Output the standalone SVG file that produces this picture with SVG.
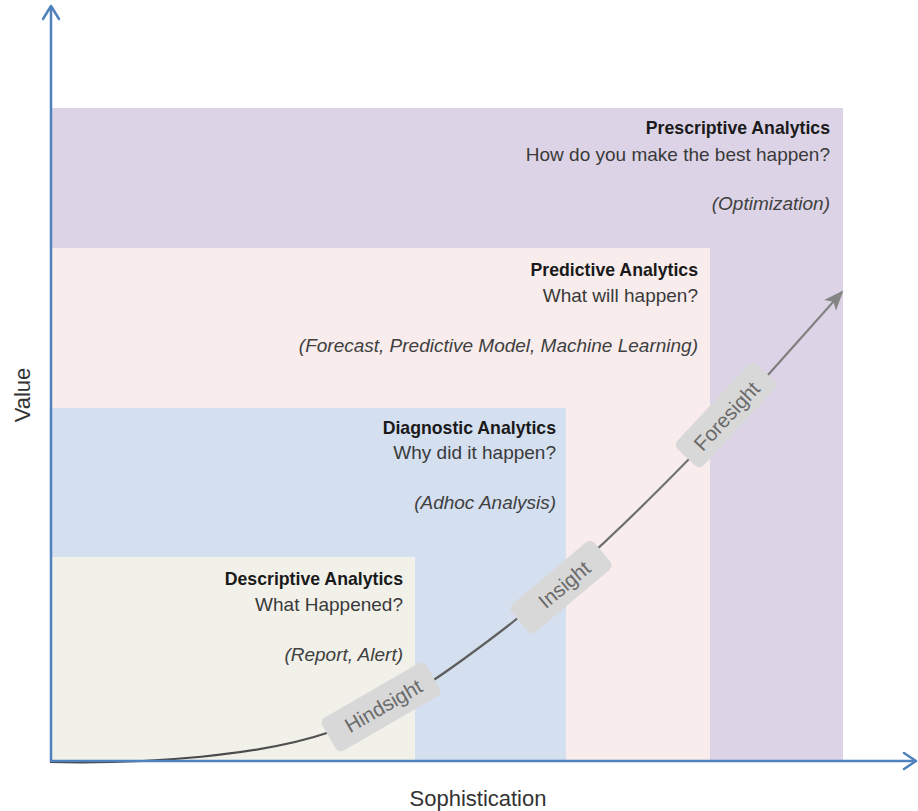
<svg xmlns="http://www.w3.org/2000/svg" width="918" height="811" viewBox="0 0 918 811">
<defs>
<style>
.t{font-family:"Liberation Sans",Arial,sans-serif;font-size:19px;fill:#3a3a3a;text-anchor:end}
.b{font-weight:bold;font-size:17.7px;fill:#1a1a1a}
.i{font-style:italic;fill:#404040}
.ax{stroke:#4f81bd;stroke-width:2.5;fill:none;stroke-linecap:round;stroke-linejoin:round}
.lab{fill:#d8d8d8}
.lt{font-family:"Liberation Sans",Arial,sans-serif;font-size:20.5px;fill:#6a6a6a;text-anchor:middle}
.axl{font-family:"Liberation Sans",Arial,sans-serif;font-size:22px;fill:#333;text-anchor:middle}
</style>
<linearGradient id="cg" gradientUnits="userSpaceOnUse" x1="50" y1="762" x2="842" y2="292">
<stop offset="0" stop-color="#404040"/>
<stop offset="1" stop-color="#858585"/>
</linearGradient>
<marker id="ah" markerUnits="userSpaceOnUse" markerWidth="22" markerHeight="18" refX="18" refY="8" orient="auto" viewBox="0 0 22 16">
<path d="M0,0 L20,8 L0,16 L5,8 z" fill="#858585"/>
</marker>
</defs>
<rect width="918" height="811" fill="#ffffff"/>
<g id="prescriptive">
<rect x="51" y="108" width="792" height="653" fill="#dcd4e6"/>
<text class="t b" x="830" y="134">Prescriptive Analytics</text>
<text class="t" x="830" y="161">How do you make the best happen?</text>
<text class="t i" x="830" y="210">(Optimization)</text>
</g>
<g id="predictive">
<rect x="51" y="248" width="659" height="513" fill="#f8ecec"/>
<text class="t b" x="698" y="276">Predictive Analytics</text>
<text class="t" x="698" y="302">What will happen?</text>
<text class="t i" x="698" y="352">(Forecast, Predictive Model, Machine Learning)</text>
</g>
<g id="diagnostic">
<rect x="51" y="408" width="515" height="353" fill="#d4dfef"/>
<text class="t b" x="556" y="434">Diagnostic Analytics</text>
<text class="t" x="556" y="459">Why did it happen?</text>
<text class="t i" x="556" y="509">(Adhoc Analysis)</text>
</g>
<g id="descriptive">
<rect x="51" y="557" width="364" height="204" fill="#f1f1ea"/>
<text class="t b" x="403" y="585">Descriptive Analytics</text>
<text class="t" x="403" y="611">What Happened?</text>
<text class="t i" x="403" y="661">(Report, Alert)</text>
</g>
<g id="connectors">
<path d="M50 762 C150 764,260 756,330 732 C400 708,450 670,500 632 C560 586,620 530,690 458 C720 427,740 406,768 375 L842 292" fill="none" stroke="url(#cg)" stroke-width="2.2" marker-end="url(#ah)"/>
</g>
<g id="hindsight">
<rect class="lab" x="-60" y="-19" width="120" height="38" rx="6" transform="translate(381,707) rotate(-30)"/>
<text class="lt" transform="translate(387,712) rotate(-30)">Hindsight</text>
</g>
<g id="insight">
<rect class="lab" x="-54" y="-18" width="108" height="36" rx="6" transform="translate(561,587) rotate(-40)"/>
<text class="lt" transform="translate(569,590) rotate(-40)">Insight</text>
</g>
<g id="foresight">
<rect class="lab" x="-58" y="-18" width="116" height="36" rx="6" transform="translate(726,415) rotate(-47)"/>
<text class="lt" transform="translate(732,421) rotate(-47)">Foresight</text>
</g>
<g id="axes">
<path class="ax" d="M51 761 L51 7"/>
<path class="ax" d="M43 19 L51 6 L59 19"/>
<path class="ax" d="M51 761 L915 761"/>
<path class="ax" d="M904 753 L916 761 L904 769"/>
</g>
<g id="axis-labels">
<text class="axl" transform="translate(30,395) rotate(-90)">Value</text>
<text class="axl" x="478" y="806">Sophistication</text>
</g>
</svg>
